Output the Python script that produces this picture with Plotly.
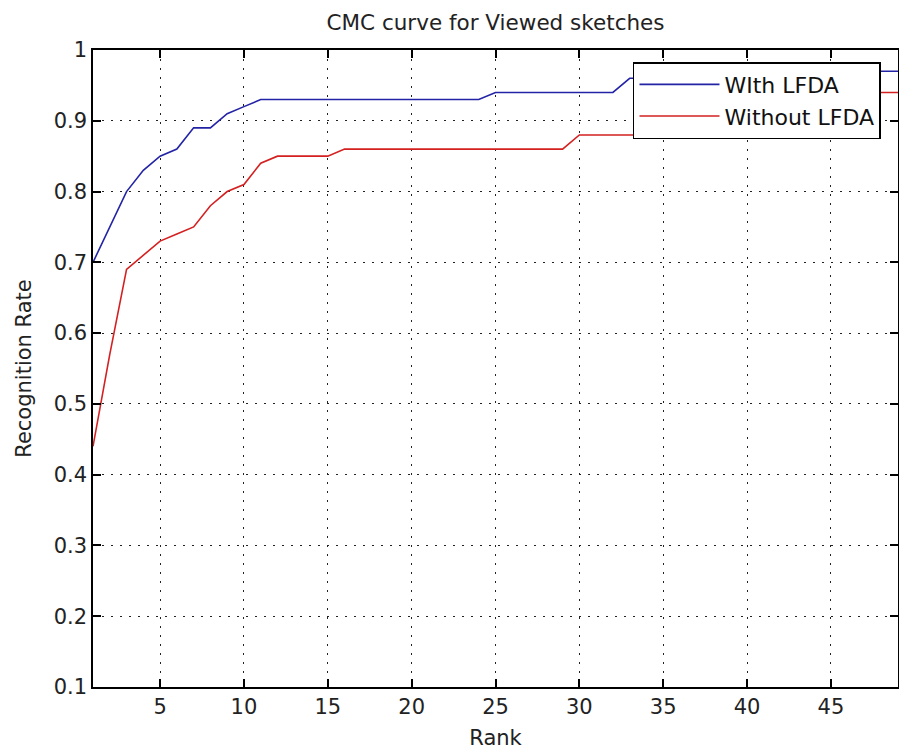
import plotly.graph_objects as go

rank = list(range(1, 50))

with_lfda = [0.70, 0.75, 0.80, 0.83, 0.85, 0.86, 0.89, 0.89, 0.91, 0.92,
             0.93, 0.93, 0.93, 0.93, 0.93, 0.93, 0.93, 0.93, 0.93, 0.93,
             0.93, 0.93, 0.93, 0.93, 0.94, 0.94, 0.94, 0.94, 0.94, 0.94,
             0.94, 0.94, 0.96, 0.96, 0.96, 0.96, 0.96, 0.96, 0.96, 0.96,
             0.97, 0.97, 0.97, 0.97, 0.97, 0.97, 0.97, 0.97, 0.97]

without_lfda = [0.44, 0.57, 0.69, 0.71, 0.73, 0.74, 0.75, 0.78, 0.80, 0.81,
                0.84, 0.85, 0.85, 0.85, 0.85, 0.86, 0.86, 0.86, 0.86, 0.86,
                0.86, 0.86, 0.86, 0.86, 0.86, 0.86, 0.86, 0.86, 0.86, 0.88,
                0.88, 0.88, 0.88, 0.88, 0.88, 0.89, 0.89, 0.90, 0.90, 0.91,
                0.91, 0.92, 0.92, 0.93, 0.93, 0.93, 0.94, 0.94, 0.94]

x_ticks = [5, 10, 15, 20, 25, 30, 35, 40, 45]
y_ticks = [0.1, 0.2, 0.3, 0.4, 0.5, 0.6, 0.7, 0.8, 0.9, 1]
y_tick_text = ["0.1", "0.2", "0.3", "0.4", "0.5", "0.6", "0.7", "0.8", "0.9", "1"]

FONT = "DejaVu Sans"

fig = go.Figure()
fig.add_trace(go.Scatter(x=rank, y=with_lfda, mode="lines", name="WIth LFDA",
                         line=dict(color="#2323a6", width=1.6)))
fig.add_trace(go.Scatter(x=rank, y=without_lfda, mode="lines", name="Without LFDA",
                         line=dict(color="#d42020", width=1.6)))

axis_common = dict(
    showline=True, linecolor="black", linewidth=1.5, mirror="ticks",
    ticks="inside", ticklen=8, tickwidth=1.5, tickcolor="black",
    showgrid=True, gridcolor="#222222", gridwidth=1, griddash="2px,7px",
    zeroline=False, tickfont=dict(family=FONT, size=21, color="#222222"),
)

fig.update_xaxes(range=[1, 49], tickvals=x_ticks, **axis_common,
                 title=dict(text="Rank", font=dict(family=FONT, size=21, color="#222222"),
                            standoff=12))
fig.update_yaxes(range=[0.1, 1], tickvals=y_ticks, ticktext=y_tick_text, **axis_common,
                 title=dict(text="Recognition Rate", font=dict(family=FONT, size=21, color="#222222"),
                            standoff=16))

fig.update_layout(
    width=899, height=756,
    margin=dict(l=93, r=1, t=50, b=69, autoexpand=False),
    paper_bgcolor="white", plot_bgcolor="white",
    title=dict(text="CMC curve for Viewed sketches", x=0.5, xref="paper",
               y=1 - 22 / 756, yref="container", yanchor="middle",
               font=dict(family=FONT, size=21.5, color="#222222")),
    showlegend=True,
    legend=dict(x=0.6708, y=0.981, xanchor="left", yanchor="top",
                bgcolor="white", bordercolor="black", borderwidth=1.5,
                font=dict(family=FONT, size=22, color="#111111"),
                itemwidth=80, tracegroupgap=0),
)

fig.write_html("out.html")
